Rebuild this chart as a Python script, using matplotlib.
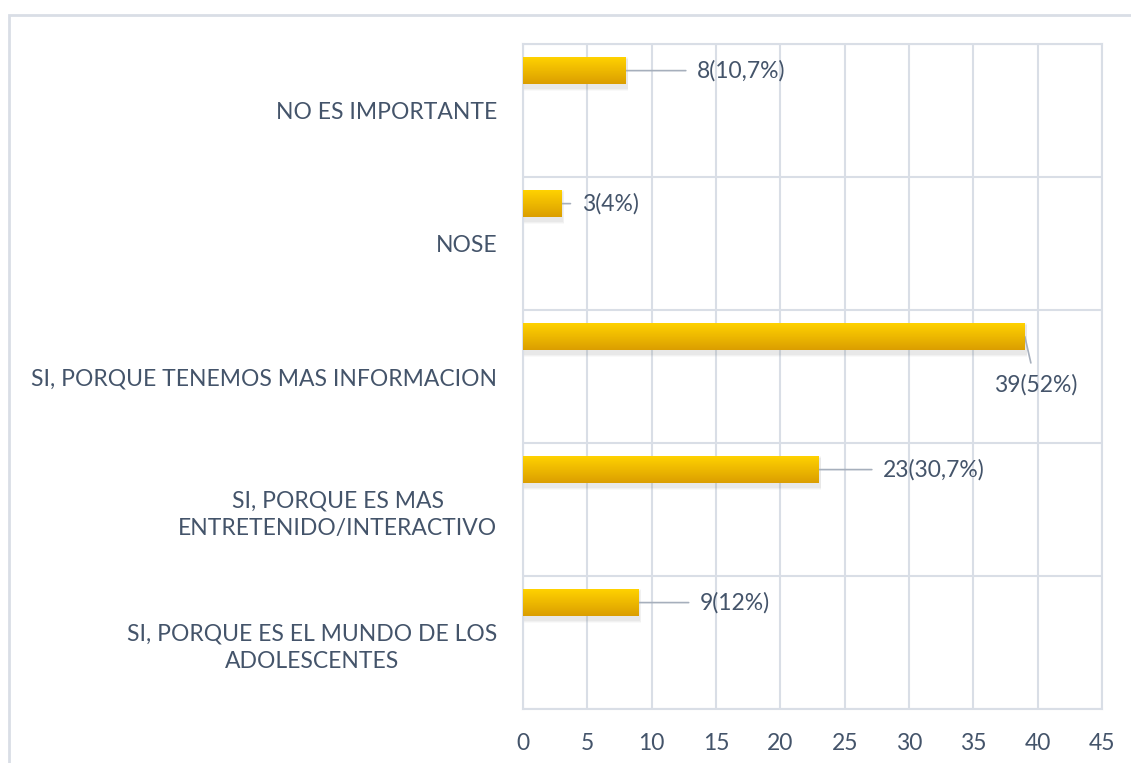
import matplotlib

matplotlib.use("Agg")
from matplotlib import pyplot as plt
from matplotlib.patches import Rectangle
import numpy as np

# data, bottom category first
categories = [
    "SI, PORQUE ES EL MUNDO DE LOS\nADOLESCENTES",
    "SI, PORQUE ES MAS\nENTRETENIDO/INTERACTIVO",
    "SI, PORQUE TENEMOS MAS INFORMACION",
    "NOSE",
    "NO ES IMPORTANTE",
]
counts = [9, 23, 39, 3, 8]
labels = ["9(12%)", "23(30,7%)", "39(52%)", "3(4%)", "8(10,7%)"]
x_ticks = [0, 5, 10, 15, 20, 25, 30, 35, 40, 45]

# label offsets (pixels from bar end) and alignment
label_offsets = [(61, 0), (64, 0), (11, -48), (20, 0), (71, 0)]
label_ha = ["left", "left", "center", "left", "left"]

TEXT = "#44546A"
GRID = "#D9DEE6"
BAR_TOP = "#FFD200"
BAR_BOTTOM = "#DB9E00"
FS = 16.5

plt.rcParams['font.family'] = ['Lato', 'DejaVu Sans']

fig = plt.figure(figsize=(11.31, 7.63), dpi=100)
ax = fig.add_axes([0.4624, 0.0708, 0.512, 0.8715])

# outer chart frame
fig.patches.append(Rectangle((9 / 1131, -0.1), 1.2, 1.1 - 15 / 763,
                             transform=fig.transFigure, fill=False,
                             edgecolor=GRID, linewidth=2))

bar_h = 0.2
bar_shift = 0.3  # bars sit in the upper part of each band
gradient = np.linspace(0, 1, 64).reshape(-1, 1)
cmap = matplotlib.colors.LinearSegmentedColormap.from_list("gold", [BAR_BOTTOM, BAR_TOP])

for i, v in enumerate(counts):
    yc = i + bar_shift
    # soft shadow
    for k, a in enumerate([0.04, 0.06, 0.08]):
        d = 0.01 * (3 - k)
        ax.add_patch(Rectangle((0, yc - bar_h / 2 - 0.025 - d), v + 0.1 + d * 3, bar_h + 2 * d,
                               facecolor="#7F7F7F", alpha=a, edgecolor="none", zorder=2))
    bar = ax.barh(yc, v, height=bar_h, color=BAR_TOP, zorder=3)[0]
    im = ax.imshow(gradient, cmap=cmap, aspect="auto", origin="lower",
                   extent=(0, v, yc - bar_h / 2, yc + bar_h / 2), zorder=4)
    im.set_clip_path(bar)

    dx, dy = label_offsets[i]
    ax.annotate(labels[i], xy=(v, yc), xytext=(dx, dy), textcoords="offset pixels",
                ha=label_ha[i], va="center", fontsize=FS, color=TEXT,
                arrowprops=dict(arrowstyle="-", color="#A6AFBC", linewidth=1.2,
                                shrinkA=6, shrinkB=0))

ax.set_xlim(0, 45)
ax.set_ylim(-0.5, len(categories) - 0.5)
ax.set_xticks(x_ticks)
ax.set_yticks(range(len(categories)))
ax.set_yticklabels(categories, fontsize=FS, color=TEXT, ha="right",
                   multialignment="center", linespacing=1.4)
ax.tick_params(axis="x", labelsize=FS, labelcolor=TEXT, length=0, pad=17)
ax.tick_params(axis="y", length=0, pad=18.5)

# gridlines: vertical at ticks, horizontal at band edges
ax.set_yticks(np.arange(-0.5, len(categories), 1), minor=True)
ax.grid(axis="x", color=GRID, linewidth=1.5, zorder=0)
ax.grid(axis="y", which="minor", color=GRID, linewidth=1.5, zorder=0)
ax.grid(axis="y", which="major", visible=False)
ax.tick_params(axis="y", which="minor", length=0)
for s in ax.spines.values():
    s.set_color(GRID)
    s.set_linewidth(1.5)
ax.set_axisbelow(True)

fig.savefig("out.png", dpi=100)
